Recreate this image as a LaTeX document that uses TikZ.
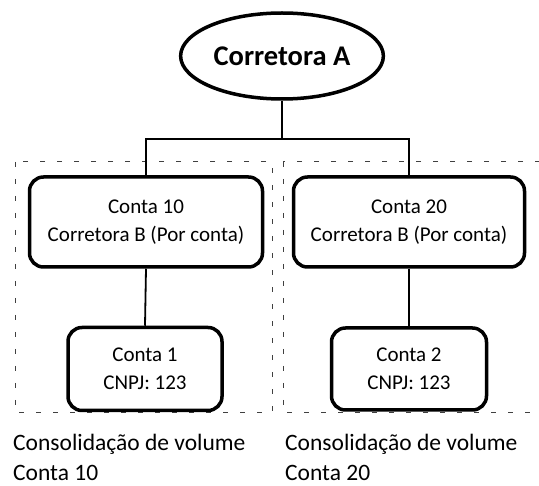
\documentclass[tikz,border=0pt]{standalone}
\usepackage{fontspec}
\setmainfont{Carlito}
\usetikzlibrary{shapes.geometric}

\tikzset{
  corretora/.style={ellipse, draw, line width=3.5pt, minimum width=196pt, minimum height=86pt,
    font=\fontsize{28.5}{34}\selectfont\bfseries},
  contabox/.style={draw, rounded corners=14pt, line width=3.5pt, align=center,
    font=\fontsize{21}{28}\selectfont},
  ligacao/.style={line width=1.8pt},
  grupo/.style={draw=black!75, line width=1pt, dash pattern=on 5pt off 12pt},
  legenda/.style={anchor=north west, align=left, inner sep=0pt,
    font=\fontsize{23.5}{30}\selectfont}
}

\begin{document}
\begin{tikzpicture}[x=1pt,y=-1pt]
  % Area da figura
  \useasboundingbox (0,0) rectangle (539,486);
  \clip (0,0) rectangle (539,486);

  % Grupos tracejados
  \draw[grupo] (15,162) rectangle (272,413);
  \draw[grupo] (283,162) rectangle (560,413);

  % Corretora principal
  \node[corretora] (corretoraA) at (282,56) {Corretora A};

  % Contas da corretora B
  \node[contabox, minimum width=233pt, minimum height=90pt] (conta10) at (146,222) {Conta 10\\Corretora B (Por conta)};
  \node[contabox, minimum width=231pt, minimum height=90pt] (conta20) at (409,222) {Conta 20\\Corretora B (Por conta)};

  % Contas finais
  \node[contabox, minimum width=154pt, minimum height=83pt] (conta1) at (145,369) {Conta 1\\CNPJ: 123};
  \node[contabox, minimum width=155pt, minimum height=82pt] (conta2) at (409,369) {Conta 2\\CNPJ: 123};

  % Ligacoes
  \coordinate (juncao) at (282,139);
  \draw[ligacao] (corretoraA.south) -- (juncao);
  \draw[ligacao] (conta10.north) |- (juncao) -| (conta20.north);
  \draw[ligacao] (conta10.south) -- (conta1.north);
  \draw[ligacao] (conta20.south) -- (conta2.north);

  % Legendas
  \node[legenda] (legenda10) at (13,434) {Consolidação de volume\\Conta 10};
  \node[legenda] (legenda20) at (285,434) {Consolidação de volume\\Conta 20};
\end{tikzpicture}
\end{document}
